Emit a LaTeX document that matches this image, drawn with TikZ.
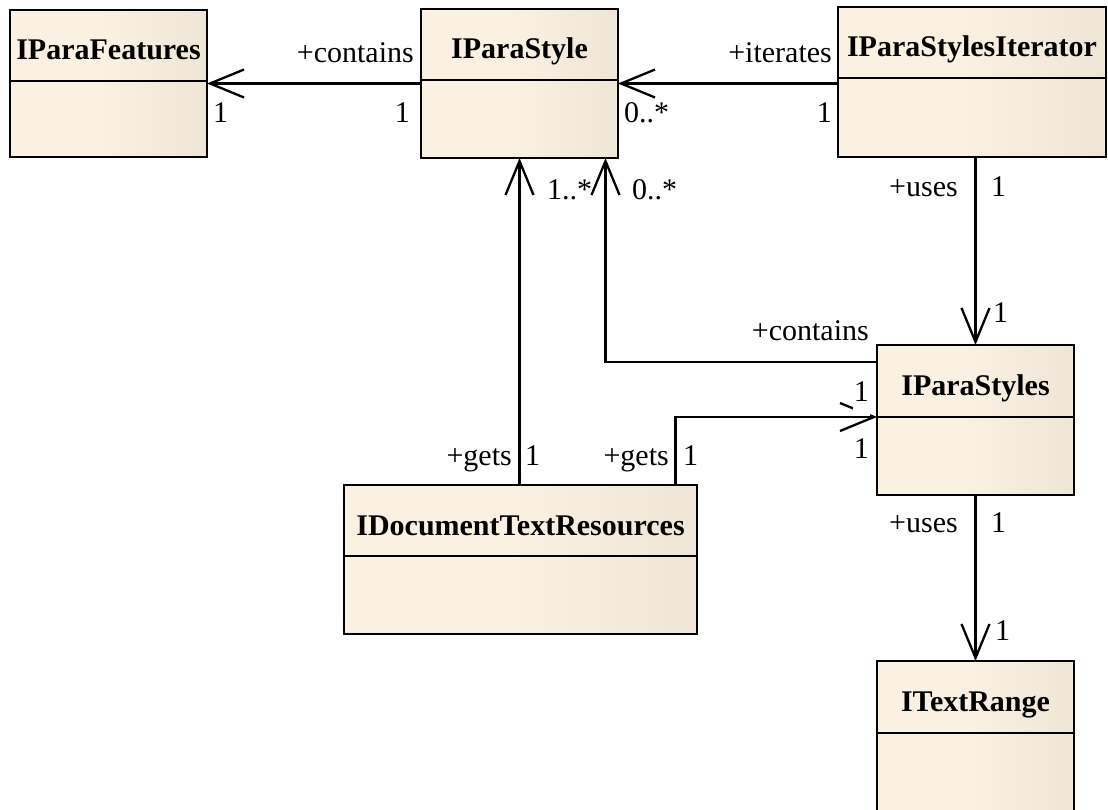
\documentclass[tikz,border=0pt]{standalone}
\usepackage{fontspec}
\setmainfont{Liberation Serif}
\usetikzlibrary{arrows.meta,calc}
\definecolor{clsA}{RGB}{251,241,227}
\definecolor{clsB}{RGB}{227,219,204}
\pgfdeclarehorizontalshading{clsshade}{100bp}{color(0bp)=(clsA); color(48bp)=(clsA); color(100bp)=(clsB)}
\newcommand\umlclass[7]{%
  \node[clsbox, minimum width=#4pt, minimum height=#5pt, anchor=north west] (#1) at (#2,#3) {};
  \draw[clsline] ([yshift=-#6pt]#1.north west) -- ([yshift=-#6pt]#1.north east);
  \node[clstitle, anchor=base] (#1-t) at ([yshift=-50pt]#1.north) {#7};
}
\tikzset{
  clsbox/.style={draw=black, line width=2.5pt, shading=clsshade, shading angle=0, inner sep=0pt, outer sep=0pt},
  clsline/.style={draw=black, line width=2.3pt},
  clstitle/.style={font=\fontsize{30}{34}\selectfont\bfseries, inner sep=0pt},
  lab/.style={font=\fontsize{30}{34}\selectfont, inner sep=0pt},
  assoc/.style={draw=black, line width=2.3pt, -{Straight Barb[length=34pt, width=28pt, line width=2.3pt]}},
}
\begin{document}
\begin{tikzpicture}[x=1pt,y=-1pt]
\useasboundingbox[fill=white] (0,0) rectangle (1108,810);
\umlclass{pf}{10}{10}{197}{147}{71}{IParaFeatures}
\umlclass{ps}{421}{9}{197}{149}{71}{IParaStyle}
\umlclass{psi}{838}{7}{268}{150}{71}{IParaStylesIterator}
\umlclass{pss}{877}{345}{197}{150}{72}{IParaStyles}
\umlclass{dtr}{344}{485}{353}{149}{71}{IDocumentTextResources}
\umlclass{tr}{877}{661}{197}{170}{72}{ITextRange}

% IParaStyle -> IParaFeatures
\draw[assoc] (ps.west) -- (ps.west -| pf.east);
\node[lab, anchor=base east] (l1) at (414,63) {+contains};
\node[lab, anchor=base east] (l2) at (410,123) {1};
\node[lab, anchor=base west] (l3) at (213,123) {1};

% IParaStylesIterator -> IParaStyle
\draw[assoc] (psi.west |- ps.east) -- (ps.east);
\node[lab, anchor=base east] (l4) at (832,63) {+iterates};
\node[lab, anchor=base east] (l5) at (832,123) {1};
\node[lab, anchor=base west] (l6) at (624,123) {0..*};

% IParaStylesIterator -> IParaStyles
\draw[assoc] (psi.south -| pss.north) -- (pss.north);
\node[lab, anchor=base east] (l7) at (958,197) {+uses};
\node[lab, anchor=base west] (l8) at (991,197) {1};
\node[lab, anchor=base west] (l9) at (993,322) {1};

% IParaStyles -> IParaStyle
\draw[assoc] ([yshift=-17pt]pss.north west) -| ([xshift=86pt]ps.south);
\node[lab, anchor=base east] (l10) at (869,340) {+contains};
\node[lab, anchor=base west] (l11) at (632,200) {0..*};

% IDocumentTextResources -> IParaStyle
\draw[assoc] (dtr.north -| ps.south) -- (ps.south);
\node[lab, anchor=base west] (l12) at (547,200) {1..*};
\node[lab, anchor=base east] (l13) at (512,465) {+gets};
\node[lab, anchor=base west] (l14) at (525,465) {1};

% IDocumentTextResources -> IParaStyles
\draw[assoc] ([xshift=155pt]dtr.north) |- ([yshift=-72pt]pss.north west);
\node[lab, anchor=base east] (l15) at (669,465) {+gets};
\node[lab, anchor=base west] (l16) at (683,465) {1};
\node[lab, fill=white, inner xsep=1pt, inner ysep=14pt, anchor=south east] (l17) at (870,416) {1};
\node[lab, anchor=base east] (l18) at (869,458) {1};

% IParaStyles -> ITextRange
\draw[assoc] (pss.south) -- (tr.north);
\node[lab, anchor=base east] (l19) at (958,532) {+uses};
\node[lab, anchor=base west] (l20) at (991,532) {1};
\node[lab, anchor=base west] (l21) at (995,640) {1};
\end{tikzpicture}
\end{document}
